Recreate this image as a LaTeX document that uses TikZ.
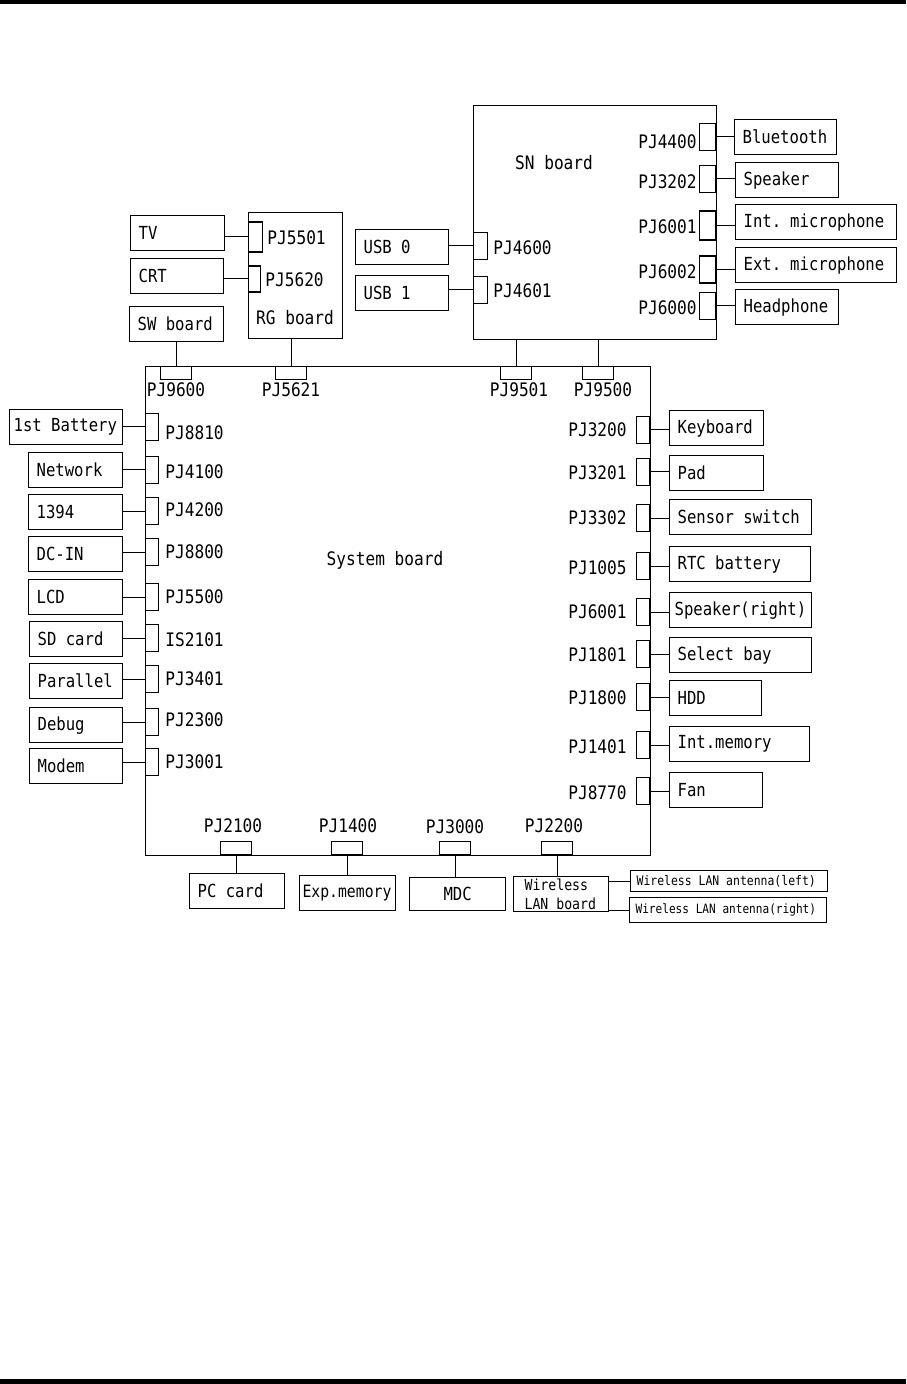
\documentclass[tikz,border=0pt]{standalone}
\usepackage{fontspec}
\setmainfont{DejaVu Sans Mono}[FakeStretch=0.8675]
\usepackage{tikz}
\usetikzlibrary{positioning}
\tikzset{
  board/.style={draw, line width=0.7pt, anchor=north west, inner sep=0pt},
  part/.style={draw, line width=0.6pt, anchor=north west, inner xsep=4pt, inner ysep=0pt, minimum height=17.5pt, align=left, font=\fontsize{9}{11}\selectfont, execute at begin node={\spaceskip=\fontcharwd\font`a\relax}, text width=#1-2*\pgfkeysvalueof{/pgf/inner xsep}},
  part/.default={47pt},
  lbl/.style={inner sep=0pt, font=\fontsize{9.3}{11}\selectfont},
  wire/.style={line width=0.5pt}
}

\begin{document}
\begin{tikzpicture}[x=0.5pt, y=-0.5pt]
  \tikzset{jv/.style={draw, line width=0.6pt, inner sep=0pt, minimum width=6.5pt, minimum height=13.5pt}}
  \tikzset{jh/.style={draw, line width=0.6pt, inner sep=0pt, minimum width=15.5pt, minimum height=6.5pt}}
  \useasboundingbox (0,0) rectangle (906,1384);
  \fill (0,0) rectangle (906,4);
  \fill (0,1379) rectangle (906,1384);

  \node[board, minimum width=252.5pt, minimum height=244.5pt] (sys) at (145,366) {};
  \node[lbl] (syslbl) at (385,560) {System board};
  \node[board, minimum width=121.5pt, minimum height=117pt] (sn) at (473,105) {};
  \node[lbl] (snlbl) at (554,163) {SN board};
  \node[board, minimum width=47pt, minimum height=63pt] (rg) at (248,212) {};
  \node[lbl] (rglbl) at (295,318) {RG board};

  \node[part] (tv) at (130,215) {TV};
  \node[part=46.5pt] (crt) at (130,258) {CRT};
  \node[part] (sw) at (129,306) {SW board};
  \node[jv, anchor=west, minimum width=7pt, minimum height=15pt] (j5501) at (248,237) {};
  \node[jv, anchor=west, minimum width=6pt, minimum height=13pt] (j5620) at (248,279) {};
  \node[lbl, anchor=west] at (267,238) {PJ5501};
  \node[lbl, anchor=west] at (265,280) {PJ5620};
  \node[jh, anchor=north] (j9600) at (176,366) {};
  \node[jh, anchor=north] (j5621) at (291,366) {};
  \node[lbl] at (176,390) {PJ9600};
  \node[lbl] at (291,390) {PJ5621};
  \draw[wire] (j5501.west) -- (j5501.west -| tv.east);
  \draw[wire] (j5620.west) -- (j5620.west -| crt.east);
  \draw[wire] (j9600.north) -- (j9600.north |- sw.south);
  \draw[wire] (j5621.north) -- (j5621.north |- rg.south);

  \node[part=46.5pt] (usb0) at (355,229) {USB 0};
  \node[part=46.5pt] (usb1) at (355,275) {USB 1};
  \node[jv, anchor=west, minimum width=7pt] (j4600) at (473,246) {};
  \node[jv, anchor=west, minimum width=7pt] (j4601) at (473,290) {};
  \node[lbl, anchor=west] at (493,248) {PJ4600};
  \node[lbl, anchor=west] at (493,291) {PJ4601};
  \draw[wire] (j4600.west) -- (j4600.west -| usb0.east);
  \draw[wire] (j4601.west) -- (j4601.west -| usb1.east);

  \node[part=51pt] (bt) at (734,119) {Bluetooth};
  \node[part=51.5pt] (spk) at (735,162) {Speaker};
  \node[part=80.5pt] (imic) at (735,204) {Int. microphone};
  \node[part=80.5pt] (emic) at (735,247) {Ext. microphone};
  \node[part=51.5pt] (hp) at (735,289) {Headphone};
  \node[jv, anchor=east, minimum width=8pt] (j4400) at (716,137) {};
  \node[jv, anchor=east, minimum width=8pt] (j3202) at (716,179) {};
  \node[jv, anchor=east, minimum width=8pt, minimum height=14.5pt] (j6001s) at (716,225.5) {};
  \node[jv, anchor=east, minimum width=8pt] (j6002) at (716,269.5) {};
  \node[jv, anchor=east, minimum width=8pt] (j6000) at (716,306) {};
  \node[lbl, anchor=east] at (697,142) {PJ4400};
  \node[lbl, anchor=east] at (697,182) {PJ3202};
  \node[lbl, anchor=east] at (697,227) {PJ6001};
  \node[lbl, anchor=east] at (697,272) {PJ6002};
  \node[lbl, anchor=east] at (697,308) {PJ6000};
  \draw[wire] (j4400.east) -- (j4400.east -| bt.west);
  \draw[wire] (j3202.east) -- (j3202.east -| spk.west);
  \draw[wire] (j6001s.east) -- (j6001s.east -| imic.west);
  \draw[wire] (j6002.east) -- (j6002.east -| emic.west);
  \draw[wire] (j6000.east) -- (j6000.east -| hp.west);
  \node[jh, anchor=north] (j9501) at (516,366) {};
  \node[jh, anchor=north] (j9500) at (598,366) {};
  \node[lbl] at (519,390) {PJ9501};
  \node[lbl] at (603,390) {PJ9500};
  \draw[wire] (j9501.north) -- (j9501.north |- sn.south);
  \draw[wire] (j9500.north) -- (j9500.north |- sn.south);

  \node[part=56.5pt, inner xsep=2pt] (bat) at (9,409) {1st Battery};
  \node[part] (net) at (28,452) {Network};
  \node[part] (fw) at (28,494) {1394};
  \node[part] (dcin) at (28,536) {DC-IN};
  \node[part] (lcd) at (28,579) {LCD};
  \node[part=46.5pt] (sd) at (29,621) {SD card};
  \node[part=46.5pt] (par) at (29,663) {Parallel};
  \node[part=46.5pt] (dbg) at (29,707) {Debug};
  \node[part=46.5pt] (mdm) at (29,748) {Modem};
  \node[jv, anchor=west] (j8810) at (145,427) {};
  \node[jv, anchor=west] (j4100) at (145,470) {};
  \node[jv, anchor=west] (j4200) at (145,511) {};
  \node[jv, anchor=west] (j8800) at (145,552) {};
  \node[jv, anchor=west] (j5500) at (145,597) {};
  \node[jv, anchor=west] (s2101) at (145,638) {};
  \node[jv, anchor=west] (j3401) at (145,679) {};
  \node[jv, anchor=west] (j2300) at (145,722) {};
  \node[jv, anchor=west] (j3001) at (145,762) {};
  \node[lbl, anchor=west] at (165,433) {PJ8810};
  \node[lbl, anchor=west] at (165,472) {PJ4100};
  \node[lbl, anchor=west] at (165,510) {PJ4200};
  \node[lbl, anchor=west] at (165,552) {PJ8800};
  \node[lbl, anchor=west] at (165,597) {PJ5500};
  \node[lbl, anchor=west] at (165,640) {IS2101};
  \node[lbl, anchor=west] at (165,679) {PJ3401};
  \node[lbl, anchor=west] at (165,720) {PJ2300};
  \node[lbl, anchor=west] at (165,762) {PJ3001};
  \draw[wire] (j8810.west) -- (j8810.west -| bat.east);
  \draw[wire] (j4100.west) -- (j4100.west -| net.east);
  \draw[wire] (j4200.west) -- (j4200.west -| fw.east);
  \draw[wire] (j8800.west) -- (j8800.west -| dcin.east);
  \draw[wire] (j5500.west) -- (j5500.west -| lcd.east);
  \draw[wire] (s2101.west) -- (s2101.west -| sd.east);
  \draw[wire] (j3401.west) -- (j3401.west -| par.east);
  \draw[wire] (j2300.west) -- (j2300.west -| dbg.east);
  \draw[wire] (j3001.west) -- (j3001.west -| mdm.east);

  \node[part] (kb) at (669,410) {Keyboard};
  \node[part] (pad) at (669,455) {Pad};
  \node[part=71pt] (sens) at (669,499) {Sensor switch};
  \node[part=70.5pt] (rtc) at (669,546) {RTC battery};
  \node[part=71pt, inner xsep=2.5pt] (spkr) at (669,592) {Speaker(right)};
  \node[part=71pt] (bay) at (669,637) {Select bay};
  \node[part=46pt] (hdd) at (669,680) {HDD};
  \node[part=70pt] (imem) at (669,726) {Int.memory};
  \node[part=46.5pt] (fan) at (669,772) {Fan};
  \node[jv, anchor=east] (j3200) at (650,430) {};
  \node[jv, anchor=east] (j3201) at (650,472) {};
  \node[jv, anchor=east] (j3302) at (650,518) {};
  \node[jv, anchor=east] (j1005) at (650,566) {};
  \node[jv, anchor=east] (j6001) at (650,612) {};
  \node[jv, anchor=east] (j1801) at (650,654) {};
  \node[jv, anchor=east] (j1800) at (650,697) {};
  \node[jv, anchor=east] (j1401) at (650,745) {};
  \node[jv, anchor=east] (j8770) at (650,791) {};
  \node[lbl, anchor=east] at (627,430) {PJ3200};
  \node[lbl, anchor=east] at (627,473) {PJ3201};
  \node[lbl, anchor=east] at (627,518) {PJ3302};
  \node[lbl, anchor=east] at (627,568) {PJ1005};
  \node[lbl, anchor=east] at (627,612) {PJ6001};
  \node[lbl, anchor=east] at (627,655) {PJ1801};
  \node[lbl, anchor=east] at (627,698) {PJ1800};
  \node[lbl, anchor=east] at (627,747) {PJ1401};
  \node[lbl, anchor=east] at (627,793) {PJ8770};
  \draw[wire] (j3200.east) -- (j3200.east -| kb.west);
  \draw[wire] (j3201.east) -- (j3201.east -| pad.west);
  \draw[wire] (j3302.east) -- (j3302.east -| sens.west);
  \draw[wire] (j1005.east) -- (j1005.east -| rtc.west);
  \draw[wire] (j6001.east) -- (j6001.east -| spkr.west);
  \draw[wire] (j1801.east) -- (j1801.east -| bay.west);
  \draw[wire] (j1800.east) -- (j1800.east -| hdd.west);
  \draw[wire] (j1401.east) -- (j1401.east -| imem.west);
  \draw[wire] (j8770.east) -- (j8770.east -| fan.west);

  \node[jh, anchor=south] (j2100) at (236,855) {};
  \node[jh, anchor=south] (j1400) at (347,855) {};
  \node[jh, anchor=south] (j3000) at (455,855) {};
  \node[jh, anchor=south] (j2200) at (557,855) {};
  \node[lbl] at (233,826) {PJ2100};
  \node[lbl] at (348,826) {PJ1400};
  \node[lbl] at (455,827) {PJ3000};
  \node[lbl] at (554,826) {PJ2200};
  \node[part=47.5pt] (pcc) at (189,873) {PC card};
  \node[part=48pt, inner xsep=1.5pt, font=\fontsize{8.5}{10}\selectfont] (emem) at (299,875) {Exp.memory};
  \node[part=48pt, minimum height=16.5pt, align=center] (mdc) at (409,877) {MDC};
  \node[part=47.5pt, inner xsep=5.5pt, font=\fontsize{7.6}{9.5}\selectfont] (wlan) at (513,876) {Wireless\\LAN board};
  \node[part=98.5pt, inner xsep=2.5pt, minimum height=10.5pt, font=\fontsize{6.6}{8}\selectfont] (antl) at (630,870) {\mbox{\hspace*{0.5pt}Wireless LAN antenna(left)}};
  \node[part=98.5pt, inner xsep=1.5pt, minimum height=12.5pt, font=\fontsize{6.4}{8}\selectfont] (antr) at (629,897) {\mbox{\hspace*{1.5pt}Wireless LAN antenna(right)}};
  \draw[wire] (j2100.south) -- (j2100.south |- pcc.north);
  \draw[wire] (j1400.south) -- (j1400.south |- emem.north);
  \draw[wire] (j3000.south) -- (j3000.south |- mdc.north);
  \draw[wire] (j2200.south) -- (j2200.south |- wlan.north);
  \draw[wire] (antl.west) -- (antl.west -| wlan.east);
  \draw[wire] (antr.west) -- (antr.west -| wlan.east);
\end{tikzpicture}
\end{document}
